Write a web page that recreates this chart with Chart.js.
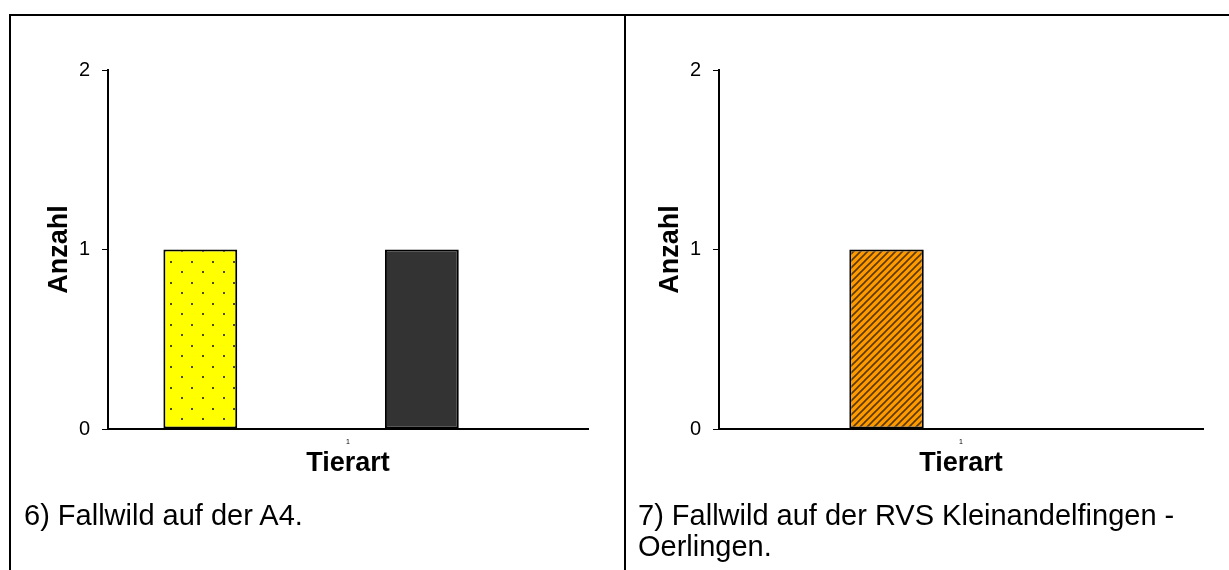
<!DOCTYPE html>
<html>
<head>
<meta charset="utf-8">
<script src="https://cdn.jsdelivr.net/npm/chart.js@4.4.1/dist/chart.umd.min.js"></script>
<style>
  html, body { margin: 0; padding: 0; background: #fff; }
  body { width: 1229px; height: 570px; position: relative; overflow: hidden;
         font-family: "Liberation Sans", Arial, sans-serif; }
  .line { position: absolute; background: #000; }
  .cap { position: absolute; font-size: 29px; line-height: 31px; color: #000; white-space: nowrap; }
  .cv { position: absolute; }
</style>
</head>
<body>
<div class="line" style="left:9px; top:14px; width:1220px; height:2px;"></div>
<div class="line" style="left:9px; top:14px; width:2px; height:556px;"></div>
<div class="line" style="left:624px; top:14px; width:2px; height:556px;"></div>

<div class="cv" style="left:10px; top:16px; width:614px; height:484px;"><canvas id="c1" width="614" height="484"></canvas></div>
<div class="cv" style="left:627px; top:16px; width:600px; height:484px;"><canvas id="c2" width="600" height="484"></canvas></div>

<div class="cap" style="left:24px; top:500px;">6) Fallwild auf der A4.</div>
<div class="cap" style="left:638px; top:500px;">7) Fallwild auf der RVS Kleinandelfingen -<br>Oerlingen.</div>

<script>
// ---- data ----
const categories = ["1"];
const seriesNames = ["Serie 1", "Serie 2", "Serie 3", "Serie 4", "Serie 5"];
const valuesA4 = [1, 0, 0, 1, 0];          // 6) Fallwild auf der A4
const valuesRVS = [0, 1, 0, 0, 0];         // 7) Fallwild auf der RVS Kleinandelfingen - Oerlingen
const yTicks = [0, 1, 2];
const yTitle = "Anzahl";
const xTitle = "Tierart";

// ---- fills ----
function dotPattern() {
  const c = document.createElement('canvas'); c.width = 21; c.height = 21;
  const g = c.getContext('2d');
  g.fillStyle = '#ffff00'; g.fillRect(0, 0, 21, 21);
  g.fillStyle = '#4a4a30';
  g.fillRect(3, 3, 2, 2); g.fillRect(13, 14, 2, 2);
  return g.createPattern(c, 'repeat');
}
function hatchPattern() {
  const s = 7;
  const c = document.createElement('canvas'); c.width = s; c.height = s;
  const g = c.getContext('2d');
  g.fillStyle = '#ff9900'; g.fillRect(0, 0, s, s);
  g.strokeStyle = '#5a3a00'; g.lineWidth = 1.6;
  g.beginPath();
  g.moveTo(-1, s + 1); g.lineTo(s + 1, -1);
  g.moveTo(-1, 1); g.lineTo(1, -1);
  g.moveTo(s - 1, s + 1); g.lineTo(s + 1, s - 1);
  g.stroke();
  return g.createPattern(c, 'repeat');
}
const fills = [dotPattern(), hatchPattern(), '#9999ff', '#333333', '#ffffff'];

const FONT = '"Liberation Sans", Arial, sans-serif';

function makeChart(id, values, yWidth, padRight, yTitlePad) {
  const ctx = document.getElementById(id);
  const datasets = seriesNames.map((n, i) => ({
    label: n,
    data: [values[i]],
    backgroundColor: fills[i],
    borderColor: '#000',
    borderWidth: values[i] ? 2 : 0,
    borderSkipped: false,
    categoryPercentage: 5 / 6.5,
    barPercentage: 1.0
  }));
  return new Chart(ctx, {
    type: 'bar',
    data: { labels: categories, datasets },
    options: {
      responsive: false,
      animation: false,
      events: [],
      layout: { padding: { left: 0, top: 54, right: padRight, bottom: 0 } },
      plugins: { legend: { display: false }, tooltip: { enabled: false } },
      scales: {
        x: {
          grid: { display: false, drawTicks: false },
          border: { display: true, color: '#000', width: 2 },
          ticks: { color: '#000', font: { family: FONT, size: 7 }, padding: 9, maxRotation: 0 },
          title: { display: true, text: xTitle, color: '#000',
                   font: { family: FONT, size: 27, weight: 'bold' }, padding: { top: 0, bottom: 20 } },
          afterFit: s => { s.height = 71; }
        },
        y: {
          min: 0, max: 2,
          afterBuildTicks: s => { s.ticks = yTicks.map(v => ({ value: v })); },
          grid: { display: true, drawOnChartArea: false, drawTicks: true, tickLength: 6, color: '#000', lineWidth: 1 },
          border: { display: true, color: '#000', width: 2 },
          ticks: { color: '#000', font: { family: FONT, size: 20 }, padding: 12 },
          title: { display: true, text: yTitle, color: '#000',
                   font: { family: FONT, size: 27, weight: 'bold' }, padding: { top: yTitlePad, bottom: 0 } },
          afterFit: s => { s.width = yWidth; }
        }
      }
    }
  });
}

makeChart('c1', valuesA4, 98, 36, 33);
makeChart('c2', valuesRVS, 92, 24, 27);
</script>
</body>
</html>
